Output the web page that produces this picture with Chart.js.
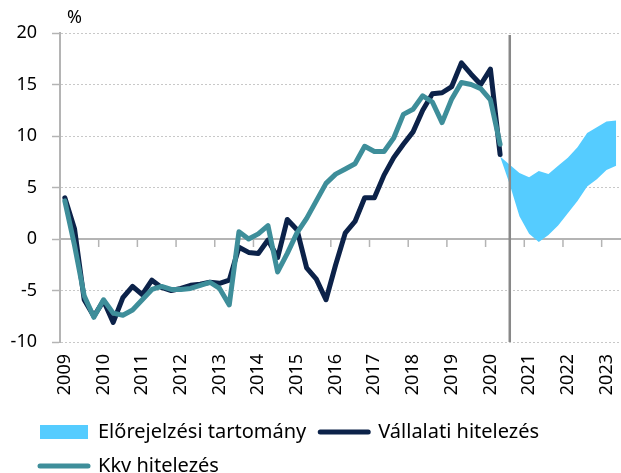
<!DOCTYPE html>
<html>
<head>
<meta charset="utf-8">
<script src="https://cdn.jsdelivr.net/npm/chart.js@4/dist/chart.umd.min.js"></script>
<style>
  body { margin: 0; background: #fff; }
</style>
</head>
<body>
<canvas id="chart" width="621" height="473"></canvas>
<script>
// quarterly data, 2009Q1 - 2023Q2
const yearLabels = ['2009', '2010', '2011', '2012', '2013', '2014', '2015', '2016',
    '2017', '2018', '2019', '2020', '2021', '2022', '2023'];
const quarters = ['Q1', 'Q2', 'Q3', 'Q4'];
const categories = yearLabels.flatMap(y => quarters.map(q => y + q)).slice(0, 58);
const forecastStart = '2020Q3';

const legendNames = ['Előrejelzési tartomány', 'Vállalati hitelezés', 'Kkv hitelezés'];

const vallalati = [4.0, 1.0, -5.9, -7.5, -6.0, -8.1, -5.7, -4.6, -5.4, -4.0, -4.7, -5.0,
    -4.8, -4.5, -4.4, -4.2, -4.3, -4.0, -0.8, -1.3, -1.4, -0.1, -1.8, 1.9,
    0.9, -2.8, -3.9, -5.9, -2.5, 0.6, 1.7, 4.0, 4.0, 6.2, 7.9, 9.2,
    10.4, 12.5, 14.1, 14.2, 14.8, 17.1, 16.0, 15.0, 16.5, 8.2,
    null, null, null, null, null, null, null, null, null, null, null, null];

const kkv = [3.7, -0.6, -5.5, -7.6, -5.9, -7.2, -7.4, -6.9, -5.9, -4.9, -4.6, -4.9,
    -4.9, -4.8, -4.5, -4.2, -4.8, -6.4, 0.7, 0.0, 0.5, 1.3, -3.2, -1.4,
    0.6, 2.0, 3.7, 5.4, 6.3, 6.8, 7.3, 9.0, 8.5, 8.5, 9.8, 12.1,
    12.6, 13.9, 13.3, 11.3, 13.6, 15.2, 15.0, 14.6, 13.5, 9.2,
    null, null, null, null, null, null, null, null, null, null, null, null];

const bandLow = [null, null, null, null, null, null, null, null, null, null, null, null,
    null, null, null, null, null, null, null, null, null, null, null, null,
    null, null, null, null, null, null, null, null, null, null, null, null,
    null, null, null, null, null, null, null, null, null, 8.0,
    5.3, 2.2, 0.5, -0.3, 0.4, 1.3, 2.5, 3.7, 5.1, 5.8, 6.7, 7.1];

const bandHigh = [null, null, null, null, null, null, null, null, null, null, null, null,
    null, null, null, null, null, null, null, null, null, null, null, null,
    null, null, null, null, null, null, null, null, null, null, null, null,
    null, null, null, null, null, null, null, null, null, 8.0,
    7.2, 6.4, 6.0, 6.6, 6.3, 7.1, 7.9, 8.9, 10.3, 10.85, 11.4, 11.5];

const bandColor = '#55ccff';
const darkColor = '#0c2249';
const tealColor = '#3e8e9a';
const axisColor = '#b4b4b4';

Chart.defaults.font.family = '"Noto Sans"';
Chart.defaults.font.size = 18;
Chart.defaults.color = '#000';

// zero line with year tick marks, forecast divider and the "%" label
const axisExtras = {
    id: 'axisExtras',
    afterLayout(chart) {
        // legend starts indented, under the y labels
        chart.legend.left += 26;
    },
    beforeDatasetsDraw(chart) {
        const {ctx, chartArea, scales: {x, y}} = chart;
        const y0 = y.getPixelForValue(0);
        const half = (x.getPixelForValue(1) - x.getPixelForValue(0)) / 2;
        ctx.save();
        ctx.strokeStyle = axisColor;
        ctx.lineWidth = 2;
        ctx.beginPath();
        ctx.moveTo(chartArea.left, y0);
        ctx.lineTo(chartArea.right, y0);
        ctx.stroke();
        ctx.lineWidth = 1.5;
        ctx.beginPath();
        categories.forEach((c, i) => {
            if (i % 4 === 0) {
                const px = x.getPixelForValue(i) - half;
                ctx.moveTo(px, y0);
                ctx.lineTo(px, y0 + 8);
            }
        });
        ctx.stroke();
        ctx.restore();
    },
    afterDatasetsDraw(chart) {
        const {ctx, chartArea, scales: {x}} = chart;
        const px = x.getPixelForValue(categories.indexOf(forecastStart));
        ctx.save();
        ctx.strokeStyle = '#888888';
        ctx.lineWidth = 2.5;
        ctx.beginPath();
        ctx.moveTo(px, chartArea.top + 2);
        ctx.lineTo(px, chartArea.bottom);
        ctx.stroke();
        ctx.fillStyle = '#000';
        ctx.font = '18px "Noto Sans"';
        ctx.textAlign = 'left';
        ctx.textBaseline = 'middle';
        ctx.fillText('%', chartArea.left + 7, 18);
        ctx.restore();
    }
};

new Chart(document.getElementById('chart'), {
    type: 'line',
    data: {
        labels: categories,
        datasets: [
            {
                label: 'low',
                data: bandLow,
                borderWidth: 0,
                pointRadius: 0,
                fill: false,
                order: 3
            },
            {
                label: legendNames[0],
                data: bandHigh,
                borderWidth: 0,
                pointRadius: 0,
                backgroundColor: bandColor,
                fill: '-1',
                order: 2
            },
            {
                label: legendNames[1],
                data: vallalati,
                borderColor: darkColor,
                borderWidth: 5,
                pointRadius: 0,
                borderJoinStyle: 'round',
                borderCapStyle: 'round',
                order: 1
            },
            {
                label: legendNames[2],
                data: kkv,
                borderColor: tealColor,
                borderWidth: 5,
                pointRadius: 0,
                borderJoinStyle: 'round',
                borderCapStyle: 'round',
                order: 0
            }
        ]
    },
    options: {
        responsive: false,
        animation: false,
        layout: { padding: { top: 33, left: 0, right: -3, bottom: -13 } },
        plugins: {
            tooltip: { enabled: false },
            legend: {
                position: 'bottom',
                align: 'start',
                labels: {
                    usePointStyle: true,
                    pointStyleWidth: 48,
                    boxWidth: 48,
                    boxHeight: 14,
                    padding: 14,
                    font: { size: 20 },
                    generateLabels: () => [
                        { text: legendNames[0], fillStyle: bandColor, strokeStyle: bandColor,
                          lineWidth: 0, pointStyle: 'rect', datasetIndex: 1 },
                        { text: legendNames[1], fillStyle: darkColor, strokeStyle: darkColor,
                          lineWidth: 5, lineCap: 'round', pointStyle: 'line', datasetIndex: 2 },
                        { text: legendNames[2], fillStyle: tealColor, strokeStyle: tealColor,
                          lineWidth: 5, lineCap: 'round', pointStyle: 'line', datasetIndex: 3 }
                    ]
                }
            }
        },
        scales: {
            x: {
                offset: true,
                grid: { display: false, drawTicks: false },
                border: { display: false },
                ticks: {
                    autoSkip: false,
                    maxRotation: 90,
                    minRotation: 90,
                    padding: 12,
                    font: { size: 18 },
                    callback: (v, i) => (i % 4 === 0 ? yearLabels[i / 4] : '')
                },
                afterFit: s => {
                    s.height = 66;
                    s.paddingLeft = 0;
                    s.paddingRight = 0;
                }
            },
            y: {
                min: -10,
                max: 20,
                ticks: { stepSize: 5, padding: 15, font: { size: 18 } },
                grid: {
                    color: '#c8c8c8',
                    lineWidth: 1,
                    tickColor: axisColor,
                    tickLength: 8,
                    tickWidth: 1.5,
                    tickBorderDash: []
                },
                border: { display: true, color: axisColor, width: 2, dash: [2, 2] },
                afterFit: s => { s.width = 60; }
            }
        }
    },
    plugins: [axisExtras]
});
</script>
</body>
</html>
